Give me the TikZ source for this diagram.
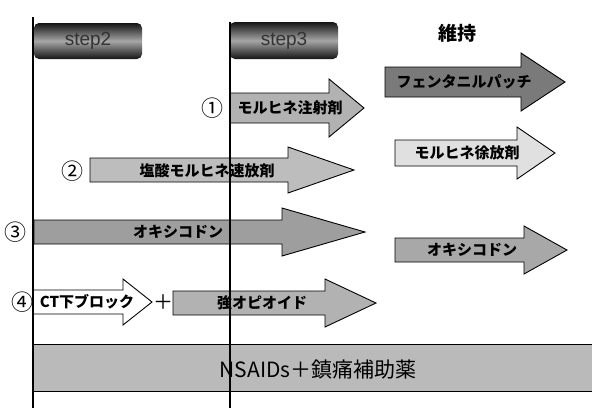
\documentclass[tikz,border=0pt]{standalone}
\usepackage{fontspec}
\newfontfamily\jp{Noto Sans CJK JP}
\newfontfamily\lat{Liberation Sans}
\newcommand\fatarrow[8]{%
  \draw[arrowline, fill=#8] (#2,{#5-#6}) -- (#3,{#5-#6}) -- (#3,{#5-#7}) -- (#4,#5) -- (#3,{#5+#7}) -- (#3,{#5+#6}) -- (#2,{#5+#6}) -- cycle;
  \coordinate (#1) at ({(#2+#3)/2},#5);
}
\begin{document}
\begin{tikzpicture}[x=1pt,y=-1pt,
  arrowline/.style={draw=black, line width=0.9pt, line join=miter},
  lbl/.style={font=\jp\bfseries\fontsize{15}{17}\selectfont, inner sep=0pt, text=black},
  num/.style={font=\jp\fontsize{22}{24}\selectfont, inner sep=0pt},
  stepbox/.style={top color=black!92, bottom color=black!92, middle color=black!35, rounded corners=5pt},
  steptext/.style={font=\lat\fontsize{19}{21}\selectfont, text=black!80, inner sep=0pt},
  rule/.style={line width=2pt, draw=black}]
\useasboundingbox (0,0) rectangle (592,408);

% step headers
\shade[stepbox] (34,23) rectangle (142,59);
\node[steptext] (s2) at (88,41) {step2};
\shade[stepbox] (230,22) rectangle (338,59);
\node[steptext] (s3) at (284,41) {step3};
\node[font=\jp\bfseries\fontsize{19}{21}\selectfont, inner sep=0pt] (keep) at (457,33) {維持};

% arrows
\fatarrow{a1}{230}{329}{364}{108}{15}{29}{black!30}
\fatarrow{a2}{90}{288}{354}{170}{12}{23}{black!26}
\fatarrow{a3}{34}{282}{365}{232}{12}{24}{black!38}
\fatarrow{af}{385}{521}{565}{82}{15}{29}{black!52}
\fatarrow{am}{395}{517}{555}{153}{13}{26}{black!12}
\fatarrow{ao}{395}{524}{567}{250}{12}{24}{black!34}
\fatarrow{act}{33}{123}{152}{302}{12}{23}{white}
\fatarrow{aop}{173}{325}{376}{303}{12}{24}{black!30}

% NSAIDs bar
\draw[arrowline, fill=black!27] (33,344) rectangle (594,391);

% vertical rules
\draw[rule] (33,17) -- (33,408);
\draw[rule] (230,22) -- (230,408);

% labels
\node[lbl] (t1) at (290,108) {モルヒネ注射剤};
\node[lbl] (t2) at (207,171) {塩酸モルヒネ速放剤};
\node[lbl] (t3) at (178,232) {オキシコドン};
\node[lbl] (tf) at (464,82) {フェンタニルパッチ};
\node[lbl] (tm) at (467,153) {モルヒネ徐放剤};
\node[lbl] (to) at (472,250) {オキシコドン};
\node[lbl] (tct) at (87,302) {CT下ブロック};
\node[lbl] (top) at (262,303) {強オピオイド};
\node[font=\jp\fontsize{20}{22}\selectfont, inner sep=0pt] (plus) at (163,302) {＋};
\node[font=\jp\fontsize{21}{23}\selectfont, inner sep=0pt] (tn) at (318,370) {NSAIDs＋鎮痛補助薬};

% circled numbers
\node[num] (n1) at (212,108) {①};
\node[num] (n2) at (72,171) {②};
\node[num] (n3) at (16,232) {③};
\node[num] (n4) at (22,302) {④};
\end{tikzpicture}
\end{document}
